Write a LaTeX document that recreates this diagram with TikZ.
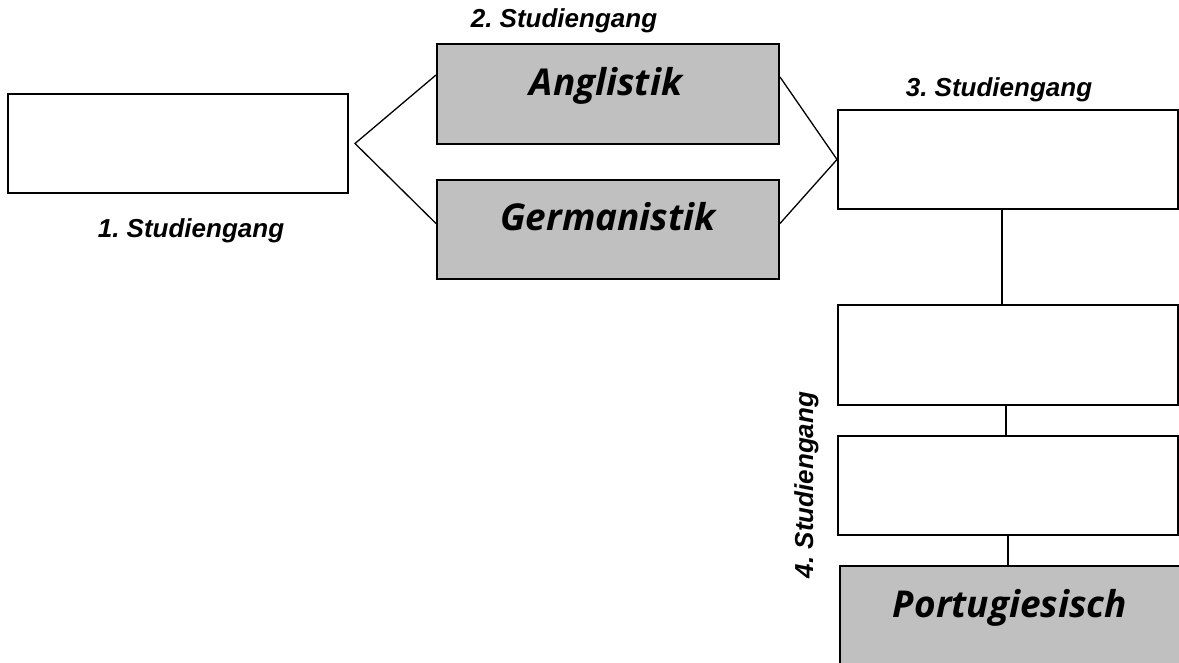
\documentclass[tikz,border=0pt]{standalone}
\usepackage{fontspec}
\setmainfont{Liberation Sans}
\newfontfamily\boxfont[Ligatures=NoCommon]{Open Sans}
\usetikzlibrary{calc}
\definecolor{boxgray}{HTML}{C0C0C0}
\frenchspacing
\tikzset{b/.style={draw,line width=2pt,inner sep=0pt,minimum width=340pt,minimum height=99pt}}
\tikzset{g/.style={b,fill=boxgray}}
\tikzset{s/.style={font=\fontsize{26}{26}\selectfont\bfseries\itshape,inner sep=0pt,anchor=base}}
\tikzset{t/.style={font=\boxfont\fontsize{37}{37}\selectfont\bfseries\itshape,inner sep=0pt,anchor=base}}
\tikzset{c/.style={line width=1.3pt}}

\begin{document}
\begin{tikzpicture}[x=1pt,y=-1pt]
          \useasboundingbox (0,0) rectangle (1179,663);
          % boxes
          \node[b] (b1) at (178,143.5) {};
          \node[g,minimum width=342pt,minimum height=100pt] (angl) at (608,94) {};
          \node[g,minimum width=342pt] (germ) at (608,229.5) {};
          \node[b] (b3) at (1008,159.5) {};
          \node[b,minimum height=100pt] (b4) at (1008,355) {};
          \node[b] (b5) at (1008,485.5) {};
          \node[g,minimum height=108pt] (port) at (1010,620) {};
          % texts
          \node[s] (s1) at (191,238) {1. Studiengang};
          \node[s] (s2) at (564,28) {2. Studiengang};
          \node[s] (s3) at (999,97) {3. Studiengang};
          \node[s,rotate=90] (s4) at (813,485) {4. Studiengang};
          \node[t] (angltext) at (606,96) {Anglistik};
          \node[t] (germtext) at (608,231) {Germanistik};
          \node[t] (porttext) at (1010,617) {Portugiesisch};
          % connectors
          \coordinate (f1) at ([xshift=6pt]b1.east);
          \draw[c] ([yshift=19pt]angl.west) -- (f1) -- ([yshift=6pt]germ.west);
          \draw[c] ([yshift=17pt]angl.east) -- (b3.west) -- ([yshift=6pt]germ.east);
          \draw[c] ([xshift=-6pt]b3.south) -- ([xshift=-6pt]b4.north);
          \draw[c] ([xshift=-2pt]b4.south) -- ([xshift=-2pt]b5.north);
          \draw[c] (b5.south) -- (b5.south |- port.north);
        \end{tikzpicture}
\end{document}
